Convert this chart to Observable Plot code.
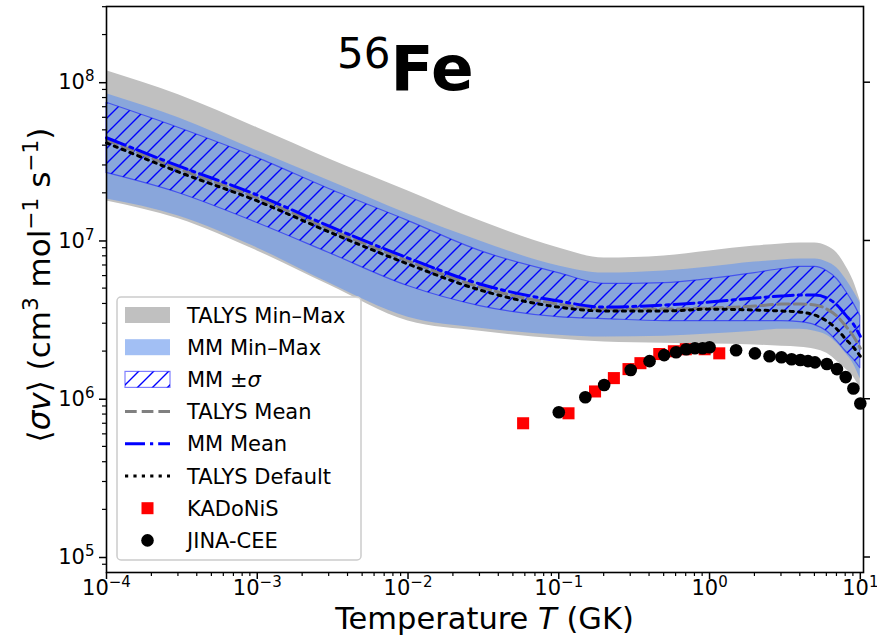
<!DOCTYPE html>
<html><head><meta charset="utf-8">
<script src="https://cdn.jsdelivr.net/npm/d3@7"></script>
<script src="https://cdn.jsdelivr.net/npm/@observablehq/plot@0.6"></script>
<style>
body{margin:0;background:#fff;}
#chart{position:relative;width:877px;height:643px;}
text{white-space:pre;}
</style>
</head><body>
<div id="chart"></div>
<script>
// ---- data ----
const temps = [1e-4, 3e-4, 1e-3, 3e-3, 1e-2, 3e-2, 0.1, 0.2, 0.5, 1, 2, 3, 4, 5, 6, 7, 8, 9, 10];
const talysMax = [1.19e8, 8.40e7, 5.19e7, 3.30e7, 2.07e7, 1.34e7, 9.04e6, 7.80e6, 8.04e6, 8.65e6, 9.30e6, 9.57e6, 9.71e6, 9.71e6, 9.30e6, 8.40e6, 6.95e6, 5.58e6, 4.17e6];
const talysMin = [1.79e7, 1.38e7, 8.65e6, 5.27e6, 3.12e6, 2.69e6, 2.40e6, 2.30e6, 2.26e6, 2.23e6, 2.20e6, 2.16e6, 2.13e6, 2.07e6, 1.95e6, 1.74e6, 1.55e6, 1.38e6, 1.16e6];
const mmMax = [8.52e7, 6.00e7, 3.71e7, 2.40e7, 1.48e7, 1.00e7, 6.95e6, 6.27e6, 6.46e6, 6.85e6, 7.36e6, 7.58e6, 7.69e6, 7.69e6, 7.36e6, 6.75e6, 5.75e6, 4.83e6, 4.05e6];
const mmMin = [1.84e7, 1.44e7, 9.04e6, 5.42e6, 3.30e6, 2.81e6, 2.54e6, 2.47e6, 2.50e6, 2.58e6, 2.69e6, 2.77e6, 2.77e6, 2.69e6, 2.54e6, 2.26e6, 1.95e6, 1.67e6, 1.34e6];
const mmSigmaHi = [7.47e7, 5.19e7, 3.35e7, 2.13e7, 1.34e7, 8.65e6, 6.27e6, 5.35e6, 5.42e6, 5.75e6, 6.27e6, 6.65e6, 6.85e6, 6.85e6, 6.46e6, 5.75e6, 4.83e6, 4.05e6, 3.35e6];
const mmSigmaLo = [2.69e7, 2.01e7, 1.30e7, 8.40e6, 5.19e6, 3.88e6, 3.30e6, 3.21e6, 3.12e6, 3.12e6, 3.12e6, 3.12e6, 3.07e6, 2.94e6, 2.69e6, 2.33e6, 2.01e6, 1.79e6, 1.57e6];
const mmMean = [4.49e7, 2.98e7, 1.95e7, 1.24e7, 7.80e6, 5.35e6, 4.17e6, 3.82e6, 3.94e6, 4.11e6, 4.36e6, 4.49e6, 4.55e6, 4.55e6, 4.36e6, 3.94e6, 3.40e6, 2.98e6, 2.50e6];
const talysMean = [4.36e7, 2.86e7, 1.87e7, 1.19e7, 7.47e6, 5.12e6, 3.99e6, 3.71e6, 3.71e6, 3.77e6, 3.88e6, 3.99e6, 3.99e6, 3.94e6, 3.71e6, 3.35e6, 2.90e6, 2.50e6, 2.10e6];
const talysDefault = [4.17e7, 2.73e7, 1.79e7, 1.14e7, 7.15e6, 4.90e6, 3.82e6, 3.61e6, 3.61e6, 3.71e6, 3.66e6, 3.61e6, 3.55e6, 3.40e6, 3.12e6, 2.77e6, 2.40e6, 2.13e6, 1.87e6];
const kadonisT = [0.058, 0.116, 0.174, 0.232, 0.290, 0.348, 0.464, 0.580, 0.696, 0.928, 1.16];
const kadonisRate = [7.05e5, 8.15e5, 1.12e6, 1.36e6, 1.55e6, 1.69e6, 1.93e6, 2.01e6, 2.07e6, 2.07e6, 1.95e6];
const jinaT = [0.1, 0.15, 0.2, 0.3, 0.4, 0.5, 0.6, 0.7, 0.8, 0.9, 1, 1.5, 2, 2.5, 3, 3.5, 4, 4.5, 5, 6, 7, 8, 9, 10];
const jinaRate = [8.28e5, 1.03e6, 1.23e6, 1.53e6, 1.74e6, 1.90e6, 1.98e6, 2.07e6, 2.10e6, 2.10e6, 2.13e6, 2.04e6, 1.95e6, 1.87e6, 1.84e6, 1.79e6, 1.77e6, 1.74e6, 1.71e6, 1.67e6, 1.55e6, 1.38e6, 1.17e6, 9.4e5];
const xTicks = [1e-4, 1e-3, 1e-2, 1e-1, 1, 10];
const yTicks = [1e5, 1e6, 1e7, 1e8];
const legendLabels = ["TALYS Min–Max", "MM Min–Max", "MM ±σ", "TALYS Mean", "MM Mean", "TALYS Default", "KADoNiS", "JINA-CEE"];

// ---- tables ----
const rows = temps.map((T, i) => ({
  T, tMax: talysMax[i], tMin: talysMin[i], mMax: mmMax[i], mMin: mmMin[i],
  sHi: mmSigmaHi[i], sLo: mmSigmaLo[i], mMean: mmMean[i], tMean: talysMean[i], tDef: talysDefault[i]
}));
const kad = kadonisT.map((T, i) => ({T, v: kadonisRate[i]}));
const jina = jinaT.map((T, i) => ({T, v: jinaRate[i]}));

const supMap = {"-": "⁻", "0": "⁰", "1": "¹", "2": "²", "3": "³", "4": "⁴", "5": "⁵", "6": "⁶", "7": "⁷", "8": "⁸", "9": "⁹"};
const unSup = Object.fromEntries(Object.entries(supMap).map(([k, v]) => [v, k === "-" ? "−" : k]));
const pow10 = d => "10" + String(Math.round(Math.log10(d))).split("").map(c => supMap[c]).join("");

const FONT = "'DejaVu Sans', sans-serif";
const W = 877, H = 643, mL = 106, mR = 14, mT = 6, mB = 71;
const C = {gray: "#c0c0c0", blue: "cornflowerblue", blueA: 0.6, mean: "#808080"};
const dashTM = "11.7,5", dashMM = "20,5,3.2,5", dashDef = "3.2,5.2";

const chart = Plot.plot({
  width: W, height: H,
  marginLeft: mL, marginRight: mR, marginTop: mT, marginBottom: mB,
  style: {fontFamily: FONT, fontSize: "21px", background: "#fff", color: "#000", overflow: "visible"},
  x: {type: "log", domain: [1e-4, 10.5], ticks: xTicks, tickFormat: pow10, tickSize: 7, tickPadding: 1, label: null},
  y: {type: "log", domain: [8.04e4, 3.03e8], ticks: yTicks, tickFormat: pow10, tickSize: 7, tickPadding: 5, label: null},
  marks: [
    Plot.areaY(rows, {x: "T", y1: "tMin", y2: "tMax", fill: C.gray, curve: "monotone-x"}),
    Plot.areaY(rows, {x: "T", y1: "mMin", y2: "mMax", fill: C.blue, fillOpacity: C.blueA, curve: "monotone-x"}),
    Plot.areaY(rows, {x: "T", y1: "sLo", y2: "sHi", fill: "url(#hatch)", stroke: "blue", strokeOpacity: 0.5, strokeWidth: 1.2, curve: "monotone-x"}),
    Plot.line(rows, {x: "T", y: "tMean", stroke: C.mean, strokeWidth: 3, strokeDasharray: dashTM, curve: "monotone-x"}),
    Plot.line(rows, {x: "T", y: "mMean", stroke: "blue", strokeWidth: 3, strokeDasharray: dashMM, curve: "monotone-x"}),
    Plot.line(rows, {x: "T", y: "tDef", stroke: "black", strokeWidth: 3, strokeDasharray: dashDef, curve: "monotone-x"}),
    Plot.dot(kad, {x: "T", y: "v", symbol: "square", r: 6.8, fill: "red"}),
    Plot.dot(jina, {x: "T", y: "v", r: 6.3, fill: "black"}),
    Plot.frame({stroke: "black", strokeWidth: 1.6})
  ]
});
document.getElementById("chart").appendChild(chart);

const svg = d3.select(chart);
// hatch pattern
const defs = svg.insert("defs", ":first-child");
const pat = defs.append("pattern").attr("id", "hatch").attr("patternUnits", "userSpaceOnUse")
  .attr("width", 15).attr("height", 15);
pat.append("path").attr("d", "M-2,2 L2,-2 M0,15 L15,0 M13,17 L17,13")
  .attr("stroke", "#0000ff").attr("stroke-width", 1.4).attr("fill", "none");

// axis tick line widths; tick labels as 10 + raised exponent
svg.selectAll('g[aria-label*="axis"] line, g[aria-label*="axis"] path').attr("stroke-width", 1.5);
svg.selectAll('g[aria-label*="axis"] text').each(function () {
  const s = this.textContent;
  if (!s.startsWith("10") || s.length < 3) return;
  const exp = s.slice(2).split("").map(c => unSup[c] ?? c).join("");
  const t = d3.select(this);
  t.text(null);
  t.append("tspan").text("10");
  t.append("tspan").attr("font-size", 15).attr("dy", -8).text(exp);
});

// scales from the plot
const sx = chart.scale("x"), sy = chart.scale("y");
const fx = sx.apply ? v => sx.apply(v) : d3.scaleLog(sx.domain, sx.range);
const fy = sy.apply ? v => sy.apply(v) : d3.scaleLog(sy.domain, sy.range);
const x0 = Math.min(...sx.range), x1 = Math.max(...sx.range);
const y0 = Math.min(...sy.range), y1 = Math.max(...sy.range);

// minor ticks + right ticks
const gt = svg.append("g").attr("stroke", "black").attr("stroke-width", 1.2);
const minorX = [];
for (let k = -4; k <= 1; k++) for (let m = 2; m <= 9; m++) { const v = m * 10 ** k; if (v > sx.domain[0] && v < sx.domain[1]) minorX.push(v); }
const minorY = [];
for (let k = 4; k <= 8; k++) for (let m = 2; m <= 9; m++) { const v = m * 10 ** k; if (v > sy.domain[0] && v < sy.domain[1]) minorY.push(v); }
minorX.forEach(v => gt.append("line").attr("x1", fx(v)).attr("x2", fx(v)).attr("y1", y1).attr("y2", y1 + 4));
minorY.forEach(v => gt.append("line").attr("y1", fy(v)).attr("y2", fy(v)).attr("x1", x0).attr("x2", x0 - 4));
yTicks.forEach(v => gt.append("line").attr("y1", fy(v)).attr("y2", fy(v)).attr("x1", x1).attr("x2", x1 + 7).attr("stroke-width", 1.5));

// axis labels
const xl = svg.append("text").attr("x", (x0 + x1) / 2).attr("y", 629).attr("text-anchor", "middle")
  .attr("font-family", FONT).attr("font-size", 30.5).attr("fill", "black");
xl.append("tspan").text("Temperature ");
xl.append("tspan").attr("font-style", "italic").text("T");
xl.append("tspan").text(" (GK)");

const yl = svg.append("text").attr("transform", `translate(50,${(y0 + y1) / 2 - 4}) rotate(-90)`)
  .attr("text-anchor", "middle").attr("font-family", FONT).attr("font-size", 31).attr("fill", "black");
yl.append("tspan").text("⟨");
yl.append("tspan").attr("font-style", "italic").text("σv");
yl.append("tspan").text("⟩ (cm");
yl.append("tspan").attr("font-size", 21.7).attr("dy", -12).text("3");
yl.append("tspan").attr("dy", 12).text(" mol");
yl.append("tspan").attr("font-size", 21.7).attr("dy", -12).text("−1");
yl.append("tspan").attr("dy", 12).text(" s");
yl.append("tspan").attr("font-size", 21.7).attr("dy", -12).text("−1");
yl.append("tspan").attr("dy", 12).text(")");

// title
const tt = svg.append("text").attr("x", 337).attr("y", 90).attr("text-anchor", "start")
  .attr("font-family", FONT).attr("fill", "black");
tt.append("tspan").attr("font-size", 42).attr("dy", -22).text("56");
tt.append("tspan").attr("font-size", 63).attr("font-weight", "bold").attr("dy", 22).text("Fe");

// legend
const lg = svg.append("g").attr("font-family", FONT).attr("font-size", 21).attr("text-anchor", "start");
lg.append("rect").attr("x", 117).attr("y", 297).attr("width", 244).attr("height", 263).attr("rx", 4)
  .attr("fill", "white").attr("fill-opacity", 0.8).attr("stroke", "#cccccc").attr("stroke-width", 1.5);
const rowY = i => 315 + i * 32.2;
const hx0 = 125, hx1 = 170, hxc = 147.5, tx = 187;
// swatches
lg.append("rect").attr("x", hx0).attr("y", rowY(0) - 8).attr("width", hx1 - hx0).attr("height", 16).attr("fill", C.gray);
lg.append("rect").attr("x", hx0).attr("y", rowY(1) - 8).attr("width", hx1 - hx0).attr("height", 16).attr("fill", C.blue).attr("fill-opacity", C.blueA);
lg.append("rect").attr("x", hx0).attr("y", rowY(2) - 8).attr("width", hx1 - hx0).attr("height", 16).attr("fill", "url(#hatch)").attr("stroke", "blue").attr("stroke-opacity", 0.5).attr("stroke-width", 1.2);
lg.append("line").attr("x1", hx0).attr("x2", hx1).attr("y1", rowY(3)).attr("y2", rowY(3)).attr("stroke", C.mean).attr("stroke-width", 3).attr("stroke-dasharray", dashTM);
lg.append("line").attr("x1", hx0).attr("x2", hx1).attr("y1", rowY(4)).attr("y2", rowY(4)).attr("stroke", "blue").attr("stroke-width", 3).attr("stroke-dasharray", dashMM);
lg.append("line").attr("x1", hx0).attr("x2", hx1).attr("y1", rowY(5)).attr("y2", rowY(5)).attr("stroke", "black").attr("stroke-width", 3).attr("stroke-dasharray", dashDef);
lg.append("rect").attr("x", hxc - 6).attr("y", rowY(6) - 6).attr("width", 12).attr("height", 12).attr("fill", "red");
lg.append("circle").attr("cx", hxc).attr("cy", rowY(7)).attr("r", 6.3).attr("fill", "black");
legendLabels.forEach((lab, i) => {
  const t = lg.append("text").attr("x", tx).attr("y", rowY(i)).attr("dy", "0.36em")
    .attr("text-anchor", "start").attr("fill", "black");
  if (lab.endsWith("σ")) {
    t.append("tspan").text(lab.slice(0, -1));
    t.append("tspan").attr("font-style", "italic").text("σ");
  } else t.text(lab);
});
</script>
</body></html>
